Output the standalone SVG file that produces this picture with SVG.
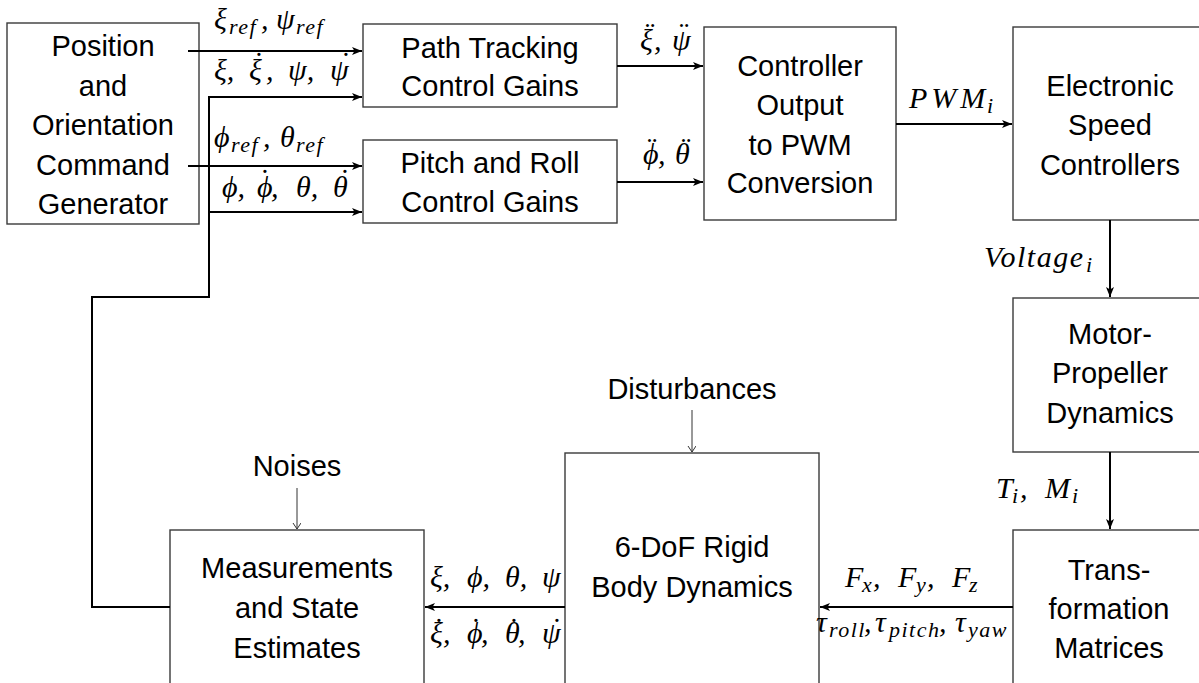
<svg xmlns="http://www.w3.org/2000/svg" width="1199" height="683" viewBox="0 0 1199 683">
<style>
.box{fill:#fff;stroke:#3a3a3a;stroke-width:1.4}
.t{font-family:"Liberation Sans",Arial,sans-serif;font-size:29px;text-anchor:middle;fill:#000}
.m{font-family:"Liberation Serif","Times New Roman",serif;font-style:italic;font-size:30px;fill:#000}
.s{font-size:22px;letter-spacing:1.5px}
.w{stroke:#000;stroke-width:2;fill:none}
.th{stroke:#333;stroke-width:1;fill:none}
</style>
<defs>
<marker id="ah" markerUnits="userSpaceOnUse" markerWidth="12" markerHeight="10" refX="10" refY="4" orient="auto">
<path d="M0,0 L10,4 L0,8 L2.5,4 z" fill="#000"/>
</marker>
<marker id="oh" markerUnits="userSpaceOnUse" markerWidth="10" markerHeight="10" refX="6" refY="4" orient="auto">
<path d="M0,0 L6,4 L0,8" fill="none" stroke="#333" stroke-width="1"/>
</marker>
</defs>

<g id="position">
<rect class="box" x="7" y="23" width="192" height="201"/>
<text class="t" x="103" y="56">Position</text>
<text class="t" x="103" y="96">and</text>
<text class="t" x="103" y="135">Orientation</text>
<text class="t" x="103" y="175">Command</text>
<text class="t" x="103" y="214">Generator</text>
</g>
<g id="path-tracking">
<rect class="box" x="363" y="24" width="254" height="83"/>
<text class="t" x="490" y="58">Path Tracking</text>
<text class="t" x="490" y="96">Control Gains</text>
</g>
<g id="pitch-roll">
<rect class="box" x="363" y="140" width="254" height="83"/>
<text class="t" x="490" y="173">Pitch and Roll</text>
<text class="t" x="490" y="212">Control Gains</text>
</g>
<g id="controller">
<rect class="box" x="704" y="27" width="192" height="193"/>
<text class="t" x="800" y="76">Controller</text>
<text class="t" x="800" y="115">Output</text>
<text class="t" x="800" y="155">to PWM</text>
<text class="t" x="800" y="193">Conversion</text>
</g>
<g id="esc">
<rect class="box" x="1013" y="27" width="194" height="193"/>
<text class="t" x="1110" y="96">Electronic</text>
<text class="t" x="1110" y="135">Speed</text>
<text class="t" x="1110" y="175">Controllers</text>
</g>
<g id="motor">
<rect class="box" x="1013" y="298" width="194" height="154"/>
<text class="t" x="1110" y="344">Motor-</text>
<text class="t" x="1110" y="383">Propeller</text>
<text class="t" x="1110" y="423">Dynamics</text>
</g>
<g id="transformation">
<rect class="box" x="1013" y="530" width="194" height="170"/>
<text class="t" x="1109" y="580">Trans-</text>
<text class="t" x="1109" y="619">formation</text>
<text class="t" x="1109" y="658">Matrices</text>
</g>
<g id="rigid-body">
<rect class="box" x="565" y="453" width="254" height="250"/>
<text class="t" x="692" y="557">6-DoF Rigid</text>
<text class="t" x="692" y="597">Body Dynamics</text>
</g>
<g id="measurements">
<rect class="box" x="170" y="530" width="254" height="170"/>
<text class="t" x="297" y="578">Measurements</text>
<text class="t" x="297" y="618">and State</text>
<text class="t" x="297" y="658">Estimates</text>
</g>
<g id="disturbances">
<text class="t" x="692" y="399">Disturbances</text>
</g>
<g id="noises">
<text class="t" x="297" y="476">Noises</text>
</g>

<g id="connectors">
<line class="w" x1="188" y1="51" x2="362" y2="51" marker-end="url(#ah)"/>
<line class="w" x1="188" y1="166" x2="362" y2="166" marker-end="url(#ah)"/>
<polyline class="w" points="170,607 92,607 92,297 209,297 209,97 362,97" marker-end="url(#ah)"/>
<line class="w" x1="209" y1="212" x2="362" y2="212" marker-end="url(#ah)"/>
<line class="w" x1="617" y1="66" x2="703" y2="66" marker-end="url(#ah)"/>
<line class="w" x1="617" y1="182" x2="703" y2="182" marker-end="url(#ah)"/>
<line class="w" x1="896" y1="124" x2="1012" y2="124" marker-end="url(#ah)"/>
<line class="w" x1="1110" y1="220" x2="1110" y2="297" marker-end="url(#ah)"/>
<line class="w" x1="1110" y1="452" x2="1110" y2="529" marker-end="url(#ah)"/>
<line class="w" x1="1013" y1="607" x2="820" y2="607" marker-end="url(#ah)"/>
<line class="w" x1="565" y1="607" x2="425" y2="607" marker-end="url(#ah)"/>
<line class="th" x1="692" y1="410" x2="692" y2="452" marker-end="url(#oh)"/>
<line class="th" x1="297" y1="488" x2="297" y2="529" marker-end="url(#oh)"/>

<text class="m"><tspan x="214" y="29">ξ</tspan><tspan class="s" x="229" y="34">ref</tspan><tspan x="261" y="29">,</tspan><tspan x="276" y="29">ψ</tspan><tspan class="s" x="296" y="34">ref</tspan></text>
<text class="m"><tspan x="214" y="80">ξ,</tspan><tspan x="249" y="80">ξ</tspan><tspan x="252" y="73">˙</tspan><tspan x="266" y="80">,</tspan><tspan x="288" y="80">ψ,</tspan><tspan x="330" y="80">ψ</tspan><tspan x="339" y="73">˙</tspan></text>
<text class="m"><tspan x="214" y="147">ϕ</tspan><tspan class="s" x="231" y="152">ref</tspan><tspan x="263" y="147">,</tspan><tspan x="280" y="147">θ</tspan><tspan class="s" x="296" y="152">ref</tspan></text>
<text class="m"><tspan x="222" y="197">ϕ,</tspan><tspan x="257" y="197">ϕ</tspan><tspan x="258" y="190">˙</tspan><tspan x="271" y="197">,</tspan><tspan x="296" y="197">θ,</tspan><tspan x="333" y="197">θ</tspan><tspan x="338" y="190">˙</tspan></text>
<text class="m"><tspan x="640" y="50">ξ</tspan><tspan x="643" y="43">¨</tspan><tspan x="654" y="50">,</tspan><tspan x="672" y="50">ψ</tspan><tspan x="677" y="43">¨</tspan></text>
<text class="m"><tspan x="643" y="164">ϕ</tspan><tspan x="645" y="158">¨</tspan><tspan x="658" y="164">,</tspan><tspan x="675" y="164">θ</tspan><tspan x="679" y="158">¨</tspan></text>
<text class="m"><tspan x="909" y="108" letter-spacing="4">PWM</tspan><tspan class="s" x="987" y="113">i</tspan></text>
<text class="m"><tspan x="984" y="267" letter-spacing="1.5">Voltage</tspan><tspan class="s" x="1086" y="272">i</tspan></text>
<text class="m"><tspan x="996" y="498">T</tspan><tspan class="s" x="1012" y="503">i</tspan><tspan x="1020" y="498">,</tspan><tspan x="1045" y="498">M</tspan><tspan class="s" x="1072" y="503">i</tspan></text>
<text class="m"><tspan x="845" y="587">F</tspan><tspan class="s" x="862" y="592">x</tspan><tspan x="873" y="587">,</tspan><tspan x="898" y="587">F</tspan><tspan class="s" x="916" y="592">y</tspan><tspan x="927" y="587">,</tspan><tspan x="952" y="587">F</tspan><tspan class="s" x="969" y="592">z</tspan></text>
<text class="m"><tspan x="816" y="632">τ</tspan><tspan class="s" x="829" y="637">roll</tspan><tspan x="864" y="632">,</tspan><tspan x="875" y="632">τ</tspan><tspan class="s" x="889" y="637">pitch</tspan><tspan x="939" y="632">,</tspan><tspan x="955" y="632">τ</tspan><tspan class="s" x="968" y="637">yaw</tspan></text>
<text class="m"><tspan x="430" y="587">ξ,</tspan><tspan x="467" y="587">ϕ,</tspan><tspan x="505" y="587">θ,</tspan><tspan x="542" y="587">ψ</tspan></text>
<text class="m"><tspan x="430" y="643">ξ</tspan><tspan x="432" y="639">˙</tspan><tspan x="443" y="643">,</tspan><tspan x="467" y="643">ϕ</tspan><tspan x="469" y="639">˙</tspan><tspan x="481" y="643">,</tspan><tspan x="505" y="643">θ</tspan><tspan x="507" y="639">˙</tspan><tspan x="518" y="643">,</tspan><tspan x="542" y="643">ψ</tspan><tspan x="550" y="639">˙</tspan></text>
</g>
</svg>
